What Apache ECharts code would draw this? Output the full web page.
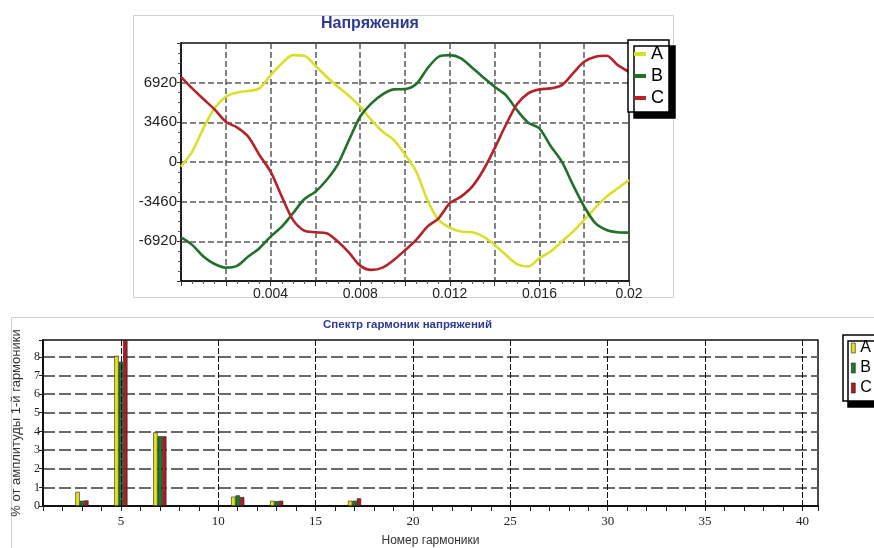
<!DOCTYPE html>
<html>
<head>
<meta charset="utf-8">
<script src="https://cdn.jsdelivr.net/npm/echarts@6/dist/echarts.min.js"></script>
<style>html,body{margin:0;padding:0;background:#fff;}#c{width:874px;height:548px;}</style>
</head>
<body>
<div id="c"></div>
<script>
// ---- top chart: voltages ----
const timeS = [0, 0.0005, 0.001, 0.0015, 0.002, 0.0025, 0.003, 0.0035, 0.004, 0.0045,
  0.005, 0.0055, 0.006, 0.0065, 0.007, 0.0075, 0.008, 0.0085, 0.009, 0.0095,
  0.01, 0.0105, 0.011, 0.0115, 0.012, 0.0125, 0.013, 0.0135, 0.014, 0.0145,
  0.015, 0.0155, 0.016, 0.0165, 0.017, 0.0175, 0.018, 0.0185, 0.019, 0.0195, 0.02];
const phaseA = [-410, 900, 2940, 4680, 5690, 6070, 6190, 6420, 7580, 8600, 9325, 9265, 8390, 7430, 6560, 5780, 4820, 3660, 2640, 1920, 650, -845, -3310, -5050, -5720, -6070, -6130, -6510, -7230, -8100, -8900, -9120, -8390, -7810, -6940, -6070, -5050, -3980, -3020, -2295, -1570];
const phaseB = [-6570, -7230, -8250, -8900, -9210, -9060, -8250, -7520, -6510, -5640, -4470, -3250, -2590, -1570, -200, 1920, 3950, 5110, 5900, 6335, 6360, 6800, 8160, 9180, 9325, 9040, 8220, 7380, 6560, 5840, 4530, 3430, 2940, 1390, 30, -2000, -3890, -5340, -5930, -6130, -6160];
const phaseC = [7430, 6420, 5490, 4590, 3510, 3020, 2210, 610, -845, -3020, -5050, -5990, -6130, -6210, -6940, -7900, -9040, -9410, -9210, -8540, -7700, -6800, -5640, -4910, -3600, -3020, -2150, -700, 1190, 3225, 5040, 5990, 6335, 6420, 6710, 7730, 8740, 9180, 9265, 8450, 7870];
const voltTicksShown = [-6920, -3460, 0, 3460, 6920];

// ---- bottom chart: harmonic spectrum ----
const harmonics = [3, 5, 7, 11, 13, 17];
const harmA = [0.76, 8.05, 3.95, 0.5, 0.28, 0.28];
const harmB = [0.28, 7.73, 3.74, 0.57, 0.26, 0.28];
const harmC = [0.3, 8.9, 3.74, 0.48, 0.28, 0.41];
const harmGridX = [5, 10, 15, 20, 25, 30, 35, 40];

const colA = '#d9e02a', colB = '#23702a', colC = '#b5232a';
const barA = '#e6e21e', barB = '#1c7a2c', barC = '#a81e22';
const FONT = 'Liberation Sans';

const chart = echarts.init(document.getElementById('c'), null, {renderer: 'canvas'});

function pairs(xs, ys) { return xs.map((x, i) => [x, ys[i]]); }

const option = {
  backgroundColor: '#fff',
  animation: false,
  textStyle: {fontFamily: FONT},
  graphic: [
    {type: 'rect', z: -10, shape: {x: 133.5, y: 15.5, width: 540, height: 282}, style: {fill: 'none', stroke: '#d0d0d0', lineWidth: 1}},
    {type: 'rect', z: -10, shape: {x: 11.5, y: 317.5, width: 880, height: 260}, style: {fill: 'none', stroke: '#d0d0d0', lineWidth: 1}}
  ],
  title: [
    {text: 'Напряжения', left: 321, top: 16, padding: 0,
      textStyle: {color: '#2e3a94', fontSize: 16, fontWeight: 'bold', fontFamily: FONT}},
    {text: 'Спектр гармоник напряжений', left: 323, top: 319, padding: 0,
      textStyle: {color: '#2e3a94', fontSize: 11.5, fontWeight: 'bold', fontFamily: FONT}}
  ],
  legend: [
    {orient: 'vertical', left: 628, top: 40, padding: [5, 5, 5, 6], itemGap: 4,
      icon: 'rect', itemWidth: 12, itemHeight: 4,
      backgroundColor: '#fff', borderColor: '#000', borderWidth: 1.5,
      shadowColor: '#000', shadowBlur: 0, shadowOffsetX: 6, shadowOffsetY: 6,
      textStyle: {fontSize: 18, color: '#000', fontFamily: FONT},
      selectedMode: false,
      data: [
        {name: 'A', itemStyle: {color: colA}},
        {name: 'B', itemStyle: {color: colB}},
        {name: 'C', itemStyle: {color: colC}}
      ]},
    {orient: 'vertical', left: 843, top: 335, padding: [5, 8, 5, 8], itemGap: 4,
      icon: 'rect', itemWidth: 4, itemHeight: 10,
      backgroundColor: '#fff', borderColor: '#000', borderWidth: 1.5,
      shadowColor: '#000', shadowBlur: 0, shadowOffsetX: 5, shadowOffsetY: 6,
      textStyle: {fontSize: 16, color: '#000', fontFamily: FONT},
      selectedMode: false,
      data: [
        {name: 'A', itemStyle: {color: barA, borderColor: '#222', borderWidth: 0.6}},
        {name: 'B', itemStyle: {color: barB, borderColor: '#222', borderWidth: 0.6}},
        {name: 'C', itemStyle: {color: barC, borderColor: '#222', borderWidth: 0.6}}
      ]}
  ],
  grid: [
    {left: 181, top: 43, width: 448, height: 238, show: true, borderColor: '#111', borderWidth: 1.5, backgroundColor: 'transparent'},
    {left: 43, top: 340, width: 775, height: 167, show: true, borderColor: '#111', borderWidth: 1.5, backgroundColor: 'transparent'}
  ],
  xAxis: [
    {type: 'value', gridIndex: 0, min: 0, max: 0.02, interval: 0.002,
      axisLine: {show: true, onZero: false, lineStyle: {color: '#111', width: 1.5}},
      axisTick: {show: true, length: 5, lineStyle: {color: '#333'}},
      minorTick: {show: true, splitNumber: 4, length: 3, lineStyle: {color: '#555'}},
      splitLine: {show: true, showMinLine: false, showMaxLine: false, lineStyle: {color: '#5a5a5a', width: 1.5, type: [6, 3]}},
      axisLabel: {fontSize: 14, color: '#222', margin: 6, fontFamily: FONT,
        formatter: function (v) {
          const k = Math.round(v / 0.002);
          if (k === 0 || k % 2 !== 0) return '';
          return String(+(v.toFixed(3)));
        }}
    },
    {type: 'value', gridIndex: 1, min: 1, max: 40.8, interval: 1,
      axisLine: {show: true, onZero: false, lineStyle: {color: '#111', width: 2}},
      axisTick: {show: true, length: 5, lineStyle: {color: '#222', width: 1}},
      splitLine: {show: false},
      axisLabel: {fontSize: 13, color: '#222', margin: 9, fontFamily: 'Liberation Serif',
        formatter: function (v) { return (Math.abs(v - Math.round(v)) < 1e-6 && Math.round(v) % 5 === 0) ? String(Math.round(v)) : ''; }},
      name: 'Номер гармоники', nameLocation: 'middle', nameGap: 29,
      nameTextStyle: {fontSize: 12, color: '#333', fontFamily: FONT}
    }
  ],
  yAxis: [
    {type: 'value', gridIndex: 0, min: -10380, max: 10380, interval: 3460,
      axisLine: {show: true, onZero: false, lineStyle: {color: '#111', width: 1.5}},
      axisTick: {show: true, length: 4, lineStyle: {color: '#333'}},
      minorTick: {show: true, splitNumber: 4, length: 3, lineStyle: {color: '#555'}},
      splitLine: {show: true, showMinLine: false, showMaxLine: false, lineStyle: {color: '#5a5a5a', width: 1.5, type: [6, 3]}},
      axisLabel: {fontSize: 15, color: '#222', margin: 4, fontFamily: FONT,
        formatter: function (v) { return voltTicksShown.indexOf(Math.round(v)) >= 0 ? String(Math.round(v)) : ''; }}
    },
    {type: 'value', gridIndex: 1, min: 0, max: 8.9, interval: 1,
      axisLine: {show: true, onZero: false, lineStyle: {color: '#111', width: 2}},
      axisTick: {show: true, length: 4, lineStyle: {color: '#222'}},
      splitLine: {show: true, showMinLine: false, showMaxLine: false, lineStyle: {color: '#6a6a6a', width: 2, type: [12, 4]}},
      axisLabel: {fontSize: 12, color: '#222', margin: 3, fontFamily: 'Liberation Serif',
        formatter: function (v) { return Math.abs(v - Math.round(v)) < 1e-6 ? String(Math.round(v)) : ''; }},
      name: '% от амплитуды 1-й гармоники', nameLocation: 'middle', nameGap: 20, nameRotate: 90,
      nameTextStyle: {fontSize: 13, color: '#333', fontFamily: FONT}
    }
  ],
  series: [
    {name: 'A', type: 'line', xAxisIndex: 0, yAxisIndex: 0, data: pairs(timeS, phaseA), showSymbol: false, smooth: 0.3,
      lineStyle: {color: colA, width: 2.6}, itemStyle: {color: colA}, z: 3},
    {name: 'B', type: 'line', xAxisIndex: 0, yAxisIndex: 0, data: pairs(timeS, phaseB), showSymbol: false, smooth: 0.3,
      lineStyle: {color: colB, width: 2.6}, itemStyle: {color: colB}, z: 3},
    {name: 'C', type: 'line', xAxisIndex: 0, yAxisIndex: 0, data: pairs(timeS, phaseC), showSymbol: false, smooth: 0.3,
      lineStyle: {color: colC, width: 2.6}, itemStyle: {color: colC}, z: 3},
    {name: 'grid5', type: 'line', xAxisIndex: 1, yAxisIndex: 1, data: [], z: 1, silent: true,
      markLine: {symbol: 'none', silent: true, label: {show: false}, animation: false,
        lineStyle: {color: '#111', width: 1, type: [6, 2]},
        data: harmGridX.map(v => ({xAxis: v}))}},
    {name: 'A', type: 'bar', xAxisIndex: 1, yAxisIndex: 1, data: pairs(harmonics, harmA), barWidth: 4.4, barGap: '0%',
      itemStyle: {color: barA, borderColor: '#222', borderWidth: 0.6}, z: 4},
    {name: 'B', type: 'bar', xAxisIndex: 1, yAxisIndex: 1, data: pairs(harmonics, harmB), barWidth: 4.4, barGap: '0%',
      itemStyle: {color: barB, borderColor: '#222', borderWidth: 0.6}, z: 4},
    {name: 'C', type: 'bar', xAxisIndex: 1, yAxisIndex: 1, data: pairs(harmonics, harmC), barWidth: 4.4, barGap: '0%',
      itemStyle: {color: barC, borderColor: '#222', borderWidth: 0.6}, z: 4}
  ]
};
chart.setOption(option);
</script>
</body>
</html>
